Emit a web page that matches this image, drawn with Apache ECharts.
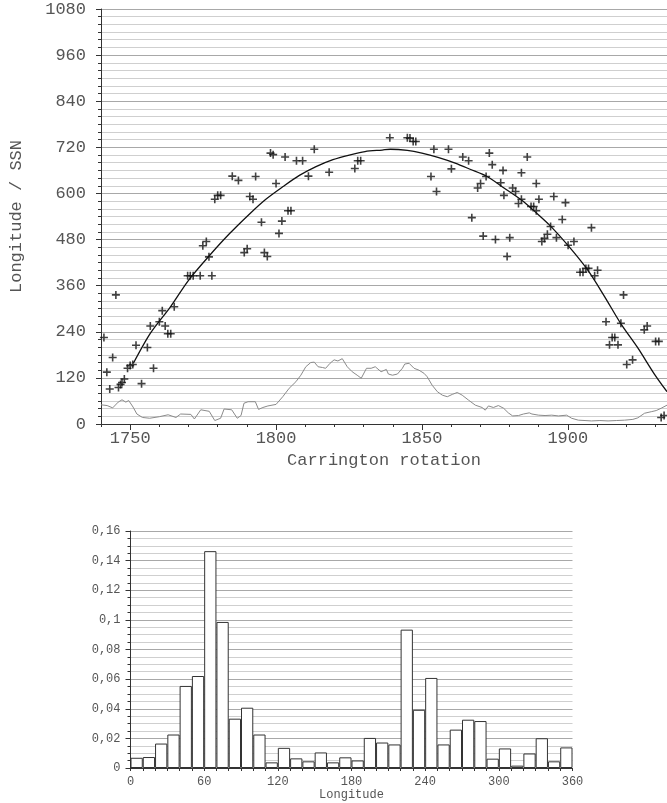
<!DOCTYPE html>
<html><head><meta charset="utf-8">
<script src="https://cdn.jsdelivr.net/npm/echarts@6/dist/echarts.min.js"></script>
<style>html,body{margin:0;padding:0;background:#fff}#c{width:667px;height:803px}</style>
</head><body><div id="c"></div>
<script>
// ---- Top chart: active longitude points ----
const rotations = [1741.0,1742.0,1743.0,1744.0,1745.1,1746.0,1746.7,1747.2,1748.0,1749.1,1750.0,1750.9,1752.0,1753.9,1755.9,1756.9,1758.0,1760.0,1761.0,1762.0,1762.9,1763.9,1765.1,1769.7,1770.6,1771.6,1774.0,1774.9,1776.1,1777.0,1778.0,1779.0,1780.0,1781.0,1785.0,1787.1,
1789.1,1790.1,1791.0,1792.1,1793.0,1795.0,1796.0,1797.0,1798.1,1799.0,1800.0,1801.0,1802.0,1803.1,1804.1,1805.1,1807.0,1809.1,1811.1,1813.1,1818.2,1827.0,1828.0,1829.0,
1839.0,1845.0,1845.9,1847.0,1847.9,1853.1,1854.1,1855.0,1859.1,1860.1,1864.0,1866.0,1867.1,1869.1,1870.1,1871.0,1872.0,1873.1,1874.1,1875.2,1877.0,1877.8,1878.1,1879.2,1880.1,1881.1,1882.1,1883.1,1884.1,1884.1,1886.1,
1887.4,1888.3,1889.2,1889.2,1890.1,1891.1,1892.0,1893.0,1894.1,1895.2,1896.1,1898.1,1899.2,1900.1,1902.1,1904.2,1905.2,1906.2,1907.1,1908.1,1909.2,1910.2,1913.1,1914.3,1915.2,1916.1,1917.2,1918.2,1919.1,1920.2,1922.2,1926.2,1927.2,1930.1,1931.2,1932.0,1933.0];
const longitudes = [225,135,91,173,336,95,103,108,117,145,152,155,205,105,199,255,145,266,295,255,235,235,305,386,386,386,386,464,475,435,386,585,595,595,645,634,
446,456,592,585,644,525,446,436,705,701,626,496,528,695,555,555,685,685,645,715,655,665,685,685,
745,745,744,735,735,644,715,605,715,664,695,685,537,614,626,489,644,705,675,480,628,660,595,436,485,614,605,574,585,654,695,
566,566,555,626,585,475,483,494,514,592,485,532,576,465,475,395,395,405,405,511,386,400,266,206,225,225,206,262,336,155,167,245,255,215,215,17,22];

// ---- Top chart: fitted curve ----
const fitRotations = [1751.1,1757,1763.8,1770,1776.9,1784,1791.1,1796.5,1802.4,1808,1813.7,1819.5,1825.1,1830.5,1836.4,1839.2,1845,1850.0,1855.5,1861.4,1866.5,1872.3,1878,1884.1,1889,1894.1,1900.5,1906.8,1912.5,1918.1,1924,1929.5,1934.0];
const fitLongitudes = [158,237,305,374,436,495,548,585,618,647,670,688,700,709,713,715,712,705,694,679,663,644,615,583,551,515,461,401,333,262,198,132,84];

// ---- Top chart: sunspot number (gray line) ----
const ssnRotations = [1740,1742.1,1744,1745.9,1747.2,1748.5,1749.5,1751,1752.3,1754.2,1756.7,1760,1763,1765.7,1767.3,1770.8,1772,1774.2,1777.1,1779,1781,1782.2,1784.8,1786.7,1788,1789,1790.4,1792.9,1794,1795.5,1797.2,1800,1802.3,1804.5,1806.8,1808.5,1810.2,1811.9,1813.1,1814.4,1815.9,1817,1818.5,1819.9,1821.2,1822.7,1824.4,1826.1,1827.8,1829.2,1831,1832.6,1834,1836,1837.8,1838.5,1839.9,1841.6,1843.3,1844.1,1845.6,1847.3,1849,1850.7,1851.8,1853.5,1855.3,1857,1858.7,1860.4,1862.1,1863.8,1866,1868.3,1870.6,1871.7,1872.8,1874.5,1876.2,1878,1879.6,1881.1,1883.1,1884.8,1886.8,1887.7,1890,1892.2,1894.5,1896.8,1899.6,1901.3,1903.6,1905.9,1908.1,1911,1913.8,1916.6,1919.5,1922.3,1924,1926.3,1928.6,1930.3,1932,1934];
const ssnValues = [50,48,42,57,63,57,61,44,26,17,15,19,24,17,26,25,13,37,33,9,15,39,37,15,22,54,58,58,38,43,47,51,71,93,110,127,149,160,161,149,147,145,158,167,164,170,149,136,127,119,145,145,149,136,142,130,127,130,145,156,158,145,140,132,123,101,84,75,71,77,82,75,62,49,43,36,47,43,48,41,29,21,22,26,29,26,23,22,23,21,23,15,10,9,8,9,8,9,10,12,16,28,32,35,41,49];

const topXTicks = [1750,1800,1850,1900];
const topXMinorTicks = [1740,1750,1760,1770,1780,1790,1800,1810,1820,1830,1840,1850,1860,1870,1880,1890,1900,1910,1920,1930];

// ---- Bottom chart: histogram ----
const histBins = ['0','10','20','30','40','50','60','70','80','90','100','110','120','130','140','150','160','170','180','190','200','210','220','230','240','250','260','270','280','290','300','310','320','330','340','350'];
const histFreq = [0.0069,0.0074,0.0165,0.0226,0.0554,0.0621,0.1464,0.0986,0.0333,0.0407,0.0226,0.0038,0.0136,0.0065,0.0045,0.0105,0.0038,0.0072,0.0051,0.0203,0.0172,0.0159,0.0934,0.0393,0.0608,0.0159,0.0259,0.0326,0.0317,0.0063,0.0132,0.0016,0.0098,0.0201,0.0045,0.0139];

const FONT = '"Liberation Mono", "DejaVu Sans Mono", monospace';
const txt = '#555';
const axisCol = '#333';
const plain = v => String(v);

const chart = echarts.init(document.getElementById('c'), null, {renderer: 'canvas'});
const plus = 'path://M4,0H6V4H10V6H6V10H4V6H0V4H4Z';

chart.setOption({
  animation: false,
  backgroundColor: '#fff',
  grid: [
    {left: 97, top: 9, right: 0, bottom: 379},
    {left: 130.5, top: 531, right: 94.5, bottom: 35}
  ],
  xAxis: [
    {
      type: 'value', gridIndex: 0, min: 1740, max: 1934, position: 'bottom',
      axisLine: {onZero: false, lineStyle: {color: axisCol}},
      axisTick: {customValues: topXTicks, length: 6, lineStyle: {color: axisCol}},
      axisLabel: {customValues: topXTicks, fontSize: 17, fontFamily: FONT, color: txt, margin: 6, formatter: plain},
      splitLine: {show: false},
      name: 'Carrington rotation', nameLocation: 'middle', nameGap: 20,
      nameTextStyle: {fontSize: 17, fontFamily: FONT, color: txt}
    },
    {
      type: 'value', gridIndex: 0, min: 1740, max: 1934, position: 'bottom',
      axisLine: {show: false},
      axisTick: {customValues: topXMinorTicks, length: 3, lineStyle: {color: axisCol}},
      axisLabel: {show: false},
      splitLine: {show: false}
    },
    {
      type: 'category', gridIndex: 1, data: histBins, show: false, boundaryGap: true
    },
    {
      type: 'value', gridIndex: 1, min: 0, max: 360, interval: 60, position: 'bottom',
      axisLine: {onZero: false, lineStyle: {color: axisCol}},
      axisTick: {length: 3, lineStyle: {color: axisCol}},
      minorTick: {show: true, splitNumber: 6, length: 3, lineStyle: {color: axisCol}},
      axisLabel: {fontSize: 12, fontFamily: FONT, color: txt, margin: 8, formatter: plain},
      splitLine: {show: false},
      name: 'Longitude', nameLocation: 'middle', nameGap: 18,
      nameTextStyle: {fontSize: 12, fontFamily: FONT, color: txt}
    }
  ],
  yAxis: [
    {
      type: 'value', gridIndex: 0, min: 0, max: 1080, interval: 120,
      axisLine: {show: true, onZero: false, lineStyle: {color: axisCol}},
      axisTick: {length: 5, lineStyle: {color: axisCol}},
      minorTick: {show: true, splitNumber: 6, length: 3, lineStyle: {color: axisCol}},
      axisLabel: {fontSize: 17, fontFamily: FONT, color: txt, margin: 15, formatter: plain},
      splitLine: {show: true, lineStyle: {color: '#a8a8a8', width: 1}},
      minorSplitLine: {show: true, lineStyle: {color: '#cfcfcf', width: 1}},
      name: 'Longitude / SSN', nameLocation: 'middle', nameGap: 76, nameRotate: 90,
      nameTextStyle: {fontSize: 17, fontFamily: FONT, color: txt}
    },
    {
      type: 'value', gridIndex: 1, min: 0, max: 0.16, interval: 0.02,
      axisLine: {show: true, onZero: false, lineStyle: {color: axisCol}},
      axisTick: {length: 5, lineStyle: {color: axisCol}},
      minorTick: {show: true, splitNumber: 4, length: 3, lineStyle: {color: axisCol}},
      axisLabel: {fontSize: 12, fontFamily: FONT, color: txt, margin: 10,
        formatter: v => String(+v.toFixed(3)).replace('.', ',')},
      splitLine: {show: true, lineStyle: {color: '#a8a8a8', width: 1}},
      minorSplitLine: {show: true, lineStyle: {color: '#cfcfcf', width: 1}}
    }
  ],
  series: [
    {
      name: 'SSN', type: 'line', xAxisIndex: 0, yAxisIndex: 0,
      data: ssnRotations.map((r, i) => [r, ssnValues[i]]),
      showSymbol: false, lineStyle: {color: '#8a8a8a', width: 1}, z: 2
    },
    {
      name: 'fit', type: 'line', xAxisIndex: 0, yAxisIndex: 0,
      data: fitRotations.map((r, i) => [r, fitLongitudes[i]]),
      smooth: 0.3, showSymbol: false, lineStyle: {color: '#111', width: 1.3}, z: 3
    },
    {
      name: 'points', type: 'scatter', xAxisIndex: 0, yAxisIndex: 0,
      data: rotations.map((r, i) => [r, longitudes[i]]),
      symbol: plus, symbolSize: 8, itemStyle: {color: '#111'}, z: 4
    },
    {
      name: 'hist', type: 'bar', xAxisIndex: 2, yAxisIndex: 1,
      data: histFreq, barCategoryGap: '0%', barGap: '0%',
      itemStyle: {color: '#fff', borderColor: '#333', borderWidth: 1}, z: 3
    }
  ]
});
</script>
</body></html>
